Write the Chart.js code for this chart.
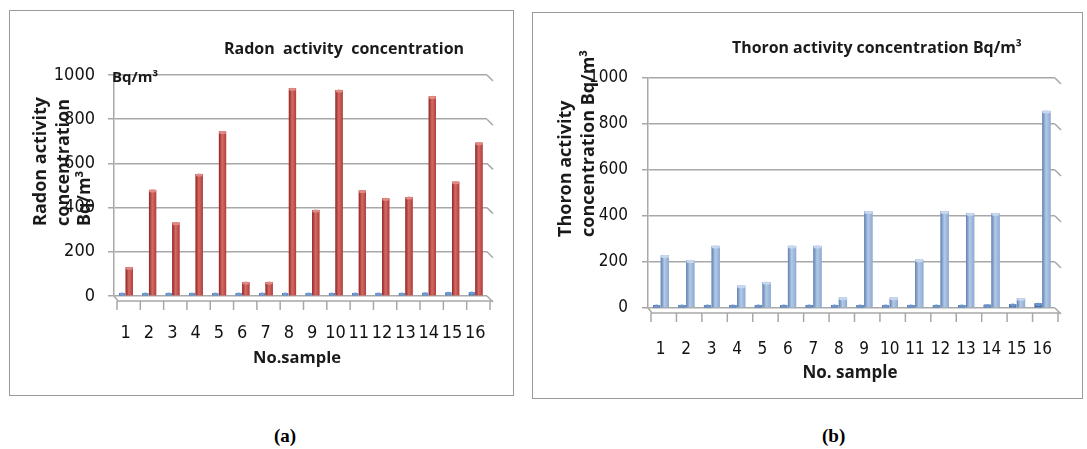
<!DOCTYPE html>
<html>
<head>
<meta charset="utf-8">
<script src="https://cdn.jsdelivr.net/npm/chart.js@4"></script>
<style>
    body { margin: 0; background: #fff; width: 1087px; height: 449px; overflow: hidden; }
    .box { position: absolute; border: 1px solid #9a9a9a; box-sizing: border-box; }
    canvas { position: absolute; }
    .cap { position: absolute; font-family: "Liberation Serif", "DejaVu Serif", serif; font-weight: bold; font-size: 19px; color: #000; }
</style>
</head>
<body>
<div class="box" style="left:9px;top:10px;width:505px;height:386px"></div>
<canvas id="radonChart" width="504" height="385" style="left:9px;top:10px"></canvas>
<div class="box" style="left:532px;top:12px;width:551px;height:387px"></div>
<canvas id="thoronChart" width="550" height="386" style="left:532px;top:12px"></canvas>
<div class="cap" style="left:274px;top:425px">(a)</div>
<div class="cap" style="left:822px;top:425px">(b)</div>
<script>
// data
const samples = ["1", "2", "3", "4", "5", "6", "7", "8", "9", "10", "11", "12", "13", "14", "15", "16"]
const radonMain = [130, 480, 332, 552, 744, 63, 63, 940, 389, 932, 477, 442, 448, 903, 517, 694]
const radonMinor = [2, 2, 3, 4, 4, 5, 6, 8, 8, 9, 10, 11, 13, 14, 16, 18]
const thoronMain = [228, 207, 270, 97, 113, 270, 270, 45, 420, 45, 210, 420, 412, 412, 42, 857]
const thoronMinor = [2, 2, 3, 4, 4, 5, 6, 7, 8, 9, 10, 12, 13, 14, 17, 20]
const yMin = 0
const yMax = 1000
const yStep = 200

const GRID = "#a8a8a8"
const TEXT = "#1a1a1a"
const NARROW = '"DejaVu Sans Condensed", "Liberation Sans Narrow", "Liberation Sans", sans-serif'
const SANS = '"Open Sans", "Noto Sans", sans-serif'

// fake cylinder shading on top of the flat bars
const shadePlugin = {
    id: "shade",
    afterDatasetDraw(chart, args) {
        const ds = chart.data.datasets[args.index]
        if (!ds.shades) return
        const ctx = chart.ctx
        ctx.save()
        args.meta.data.forEach((bar) => {
            const { x, y, base, width } = bar.getProps(["x", "y", "base", "width"], true)
            const left = x - width / 2
            const g = ctx.createLinearGradient(left, 0, left + width, 0)
            g.addColorStop(0, ds.shades[0])
            g.addColorStop(0.45, ds.shades[1])
            g.addColorStop(1, ds.shades[2])
            ctx.fillStyle = g
            ctx.fillRect(left, y, width, base - y)
            ctx.fillStyle = ds.shades[3]
            ctx.beginPath()
            ctx.ellipse(x, y + 1, width / 2, 1.6, 0, 0, Math.PI * 2)
            ctx.fill()
        })
        ctx.restore()
    },
}

// depth of the 3d floor and grid line tails
const floorPlugin = {
    id: "floor",
    beforeDatasetsDraw(chart) {
        const { ctx, chartArea, scales } = chart
        const y0 = scales.y.getPixelForValue(0)
        const n = chart.data.labels.length
        const step = (chartArea.right - chartArea.left) / n
        ctx.save()
        ctx.strokeStyle = GRID
        ctx.lineWidth = 1.5
        ctx.beginPath()
        scales.y.ticks.forEach((t) => {
            const y = scales.y.getPixelForValue(t.value)
            ctx.moveTo(chartArea.right, y)
            ctx.lineTo(chartArea.right + 6, y + 6)
        })
        ctx.moveTo(chartArea.left, y0)
        ctx.lineTo(chartArea.left + 4, y0 + 5)
        ctx.lineTo(chartArea.right + 6, y0 + 5)
        for (let i = 0; i <= n; i++) {
            const x = chartArea.left + 3 + i * step
            ctx.moveTo(x, y0 + 5)
            ctx.lineTo(x, y0 + 14)
        }
        ctx.stroke()
        ctx.restore()
    },
}

// titles drawn at the spots the original layout puts them
function textPlugin(cfg) {
    return {
        id: "texts",
        afterDraw(chart) {
            const ctx = chart.ctx
            ctx.save()
            ctx.fillStyle = TEXT
            ctx.textBaseline = "middle"

            ctx.font = `bold ${cfg.titleSize}px ${SANS}`
            ctx.textAlign = "left"
            ctx.fillText(cfg.title, cfg.titleX, cfg.titleY)

            ctx.font = `bold ${cfg.xTitleSize}px ${SANS}`
            ctx.textAlign = "center"
            ctx.fillText(cfg.xTitle, cfg.xTitleX, cfg.xTitleY)

            if (cfg.corner) {
                ctx.font = `bold 15px ${SANS}`
                ctx.textAlign = "left"
                ctx.fillText(cfg.corner, cfg.cornerX, cfg.cornerY)
            }

            ctx.font = `bold ${cfg.yTitleSize}px ${SANS}`
            ctx.textAlign = "left"
            cfg.yTitle.forEach((line, i) => {
                ctx.save()
                ctx.translate(cfg.yTitleX[i], cfg.yTitleBottom)
                ctx.rotate(-Math.PI / 2)
                ctx.fillText(line, 0, 0)
                ctx.restore()
            })
            ctx.restore()
        },
    }
}

function buildChart(canvasId, main, minor, cfg) {
    const ctx = document.getElementById(canvasId).getContext("2d")
    return new Chart(ctx, {
        type: "bar",
        data: {
            labels: samples,
            datasets: [
                {
                    data: minor,
                    backgroundColor: cfg.minorColor,
                    shades: cfg.minorShades,
                    barPercentage: cfg.minorBar,
                    categoryPercentage: cfg.catPct,
                    minBarLength: 3,
                },
                {
                    data: main,
                    backgroundColor: cfg.mainColor,
                    shades: cfg.mainShades,
                    barPercentage: 1.0,
                    categoryPercentage: cfg.catPct,
                },
            ],
        },
        options: {
            responsive: false,
            animation: false,
            layout: {
                padding: { top: cfg.top, right: cfg.right, left: 0, bottom: 0 },
            },
            plugins: {
                legend: { display: false },
                tooltip: { enabled: false },
            },
            scales: {
                x: {
                    afterFit: (scale) => {
                        scale.height = cfg.xHeight
                    },
                    grid: { display: false },
                    border: { display: false },
                    ticks: {
                        padding: cfg.xPad,
                        maxRotation: 0,
                        autoSkip: false,
                        color: "#111",
                        font: { family: NARROW, size: cfg.tickSize },
                    },
                },
                y: {
                    min: yMin,
                    max: yMax,
                    afterFit: (scale) => {
                        scale.width = cfg.yWidth
                    },
                    grid: { color: GRID, lineWidth: 1.5, tickLength: 6 },
                    border: { color: GRID, width: 1.5 },
                    ticks: {
                        stepSize: yStep,
                        padding: cfg.yPad,
                        color: "#111",
                        font: { family: NARROW, size: cfg.tickSize },
                        callback: (v) => String(v),
                    },
                },
            },
        },
        plugins: [floorPlugin, shadePlugin, textPlugin(cfg)],
    })
}

buildChart("radonChart", radonMain, radonMinor, {
    top: 65, right: 26, yWidth: 105, xHeight: 99, xPad: 19, yPad: 13, tickSize: 18,
    catPct: 0.62, minorBar: 0.8,
    mainColor: "#c0504d", mainShades: ["#8e2522", "#d56b66", "#b23f3b", "#e08a86"],
    minorColor: "#3f73b5", minorShades: ["#2a5694", "#4f86c8", "#3b6fb0", "#6e9ad4"],
    title: "Radon  activity  concentration", titleSize: 16, titleX: 215, titleY: 39,
    xTitle: "No.sample", xTitleSize: 16.5, xTitleX: 288, xTitleY: 348,
    corner: "Bq/m³", cornerX: 103, cornerY: 68,
    yTitle: ["Radon activity", "concentration", "Bq/m³"], yTitleX: [32, 55, 76], yTitleBottom: 216, yTitleSize: 18,
})

buildChart("thoronChart", thoronMain, thoronMinor, {
    top: 66, right: 27, yWidth: 116, xHeight: 90, xPad: 23, yPad: 14, tickSize: 17,
    catPct: 0.65, minorBar: 0.85,
    mainColor: "#95b3d7", mainShades: ["#5f7fb3", "#b3cae6", "#8ea9d2", "#c6d7ee"],
    minorColor: "#3f6fa8", minorShades: ["#2b5590", "#4a7ebd", "#3a69a5", "#6b93c9"],
    title: "Thoron activity concentration Bq/m³", titleSize: 15.9, titleX: 200, titleY: 36,
    xTitle: "No. sample", xTitleSize: 17, xTitleX: 318, xTitleY: 361,
    yTitle: ["Thoron activity", "concentration Bq/m³"], yTitleX: [34, 57], yTitleBottom: 225, yTitleSize: 18,
})
</script>
</body>
</html>
